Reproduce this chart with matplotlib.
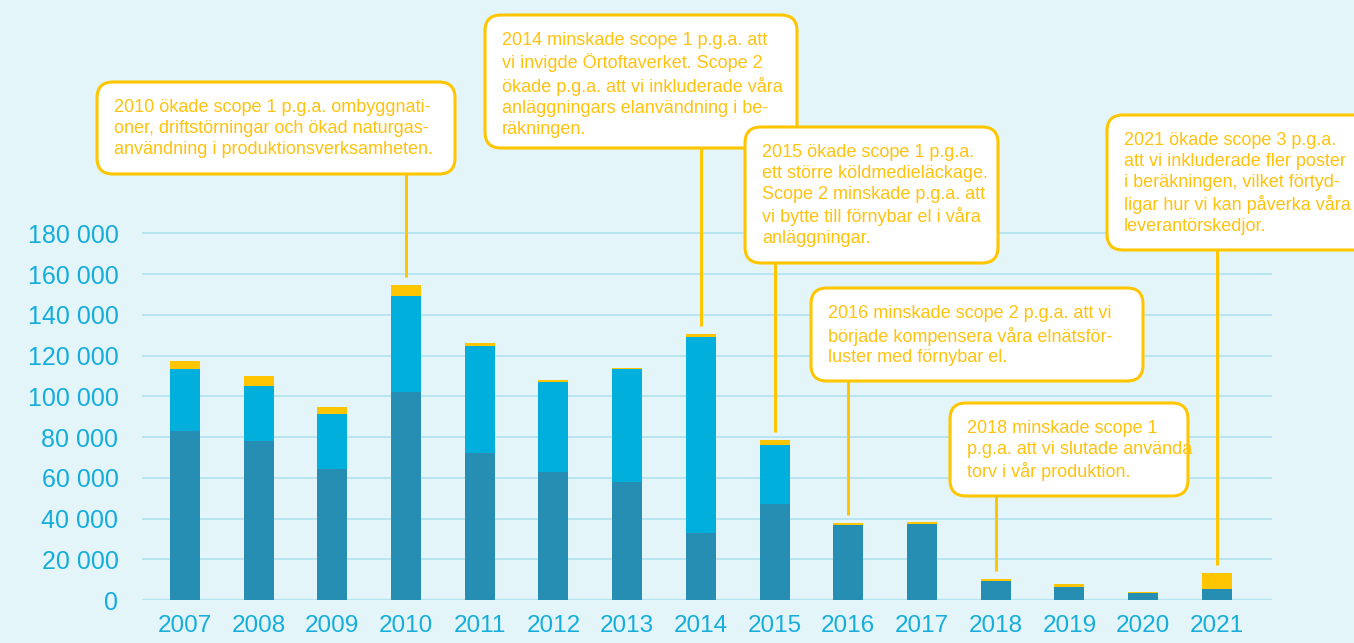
import matplotlib
matplotlib.use("Agg")
import matplotlib.pyplot as plt
from matplotlib.patches import FancyBboxPatch
from matplotlib.transforms import IdentityTransform
import numpy as np

# utsläpp per år (ton CO2e)
years = [str(y) for y in range(2007, 2022)]
scope1 = [83000, 78000, 64300, 102000, 72000, 63000, 57800, 32700, 47000,
          36700, 37300, 9300, 6400, 3600, 5400]
scope2 = [30500, 27000, 27100, 47200, 52500, 43800, 55400, 96400, 29000,
          0, 0, 0, 0, 0, 0]
scope3 = [4000, 5000, 3200, 5300, 1500, 1000, 500, 1300, 2300,
          1200, 1000, 1000, 1400, 500, 7800]
yticks = list(range(0, 180001, 20000))

# kommentarer: år, text, ruta i pixlar (vänster, topp, höger, botten)
notes = [
    ("2010", "2010 ökade scope 1 p.g.a. ombyggnati-\noner, driftstörningar och ökad naturgas-\nanvändning i produktionsverksamheten.",
     (97, 82, 455, 174)),
    ("2014", "2014 minskade scope 1 p.g.a. att\nvi invigde Örtoftaverket. Scope 2\nökade p.g.a. att vi inkluderade våra\nanläggningars elanvändning i be-\nräkningen.",
     (485, 15, 797, 148)),
    ("2015", "2015 ökade scope 1 p.g.a.\nett större köldmedieläckage.\nScope 2 minskade p.g.a. att\nvi bytte till förnybar el i våra\nanläggningar.",
     (745, 127, 998, 263)),
    ("2016", "2016 minskade scope 2 p.g.a. att vi\nbörjade kompensera våra elnätsför-\nluster med förnybar el.",
     (811, 288, 1143, 381)),
    ("2018", "2018 minskade scope 1\np.g.a. att vi slutade använda\ntorv i vår produktion.",
     (950, 403, 1188, 496)),
    ("2021", "2021 ökade scope 3 p.g.a.\natt vi inkluderade fler poster\ni beräkningen, vilket förtyd-\nligar hur vi kan påverka våra\nleverantörskedjor.",
     (1107, 115, 1380, 250)),
]

W, H = 1354, 643
bg = "#e4f5fa"
c1 = "#268db3"
c2 = "#00afdb"
c3 = "#ffc600"
txt_blue = "#15addb"
grid_c = "#b5e4f3"

plt.rcParams["font.family"] = ["Liberation Sans", "DejaVu Sans"]

fig = plt.figure(figsize=(W / 100, H / 100), dpi=100, facecolor=bg)
ax = fig.add_axes([142 / W, 43 / H, (1272 - 142) / W, 1 - 43 / H])
ax.set_facecolor(bg)

x = np.arange(len(years))
s1 = np.array(scope1)
s2 = np.array(scope2)
s3 = np.array(scope3)
bw = 0.407
ax.bar(x, s1, bw, color=c1, zorder=3)
ax.bar(x, s2, bw, bottom=s1, color=c2, zorder=3)
ax.bar(x, s3, bw, bottom=s1 + s2, color=c3, zorder=3)

ax.set_xlim(-0.583, 14.75)
ax.set_ylim(0, 180000 * 600 / 366.7)
ax.set_yticks(yticks)
ax.set_yticklabels([f"{v:,}".replace(",", " ") for v in yticks])
ax.set_xticks(x)
ax.set_xticklabels(years)
ax.tick_params(axis="both", length=0, labelsize=18, labelcolor=txt_blue)
ax.tick_params(axis="y", pad=17)
ax.tick_params(axis="x", pad=11, labelsize=17.5)
for s in ax.spines.values():
    s.set_visible(False)
ax.grid(axis="y", color=grid_c, linewidth=1.3, zorder=0)
ax.axhline(0, color=grid_c, linewidth=2.5, zorder=1)

ident = IdentityTransform()
inv = ax.transData.inverted()
total = s1 + s2 + s3
gap = inv.transform((0, 0))[1] - inv.transform((0, -8))[1]

for yr, text, (l, t, r, b) in notes:
    i = years.index(yr)
    ybot = inv.transform((0, H - b))[1]
    ax.plot([i, i], [total[i] + gap, ybot], color=c3, linewidth=2.2,
            zorder=4, solid_capstyle="butt", clip_on=False)
    box = FancyBboxPatch((l, H - b), r - l, b - t,
                         boxstyle="round,pad=0,rounding_size=16",
                         transform=ident, facecolor="white", edgecolor=c3,
                         linewidth=2.2, zorder=5)
    fig.add_artist(box)
    fig.text(l + 17, H - t - 17, text, transform=ident, ha="left", va="top",
             color="#ffc20e", fontsize=13, linespacing=1.3, zorder=6)

fig.savefig("out.png", dpi=100, facecolor=bg)
